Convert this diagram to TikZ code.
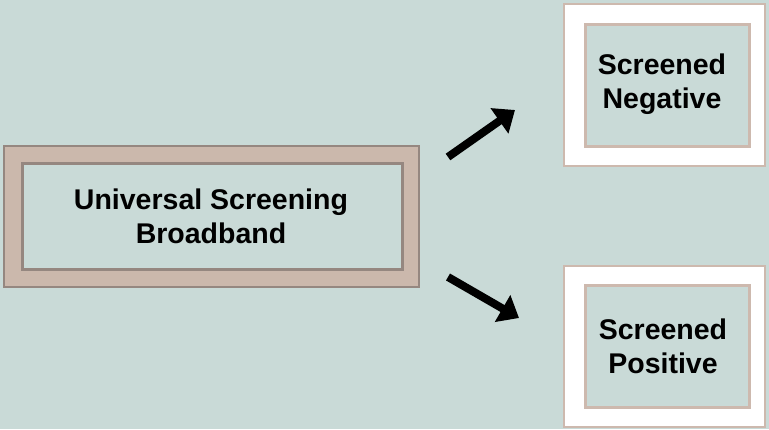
\documentclass[tikz,border=0pt]{standalone}
\usepackage{fontspec}
\setmainfont{Liberation Sans}
\usetikzlibrary{arrows.meta}
\definecolor{bgc}{HTML}{C9DAD7}
\definecolor{tan}{HTML}{CBB8AC}
\definecolor{darktan}{HTML}{958780}
\definecolor{lighttan}{HTML}{CDB9AE}
\tikzset{
  frame/.style={draw, inner sep=0pt, outer sep=0pt},
  label/.style={font=\bfseries\fontsize{28.5}{34}\selectfont, align=center},
  bigarrow/.style={line width=8pt, -{Triangle[width=30pt,length=19pt]}, black}
}
\begin{document}
\begin{tikzpicture}[x=1pt,y=-1pt]
  % background
  \fill[bgc] (0,0) rectangle (769,429);
  \useasboundingbox (0,0) rectangle (769,429);

  % main box
  \draw[fill=tan, draw=darktan, line width=2pt] (4,146) rectangle (419,287);
  \draw[fill=bgc, draw=darktan, line width=3pt] (22,163) rectangle (402,269);
  \node[label] (main) at (211,216) {Universal Screening\\Broadband};

  % negative outcome
  \draw[fill=white, draw=lighttan, line width=2pt] (564,4) rectangle (765,166);
  \draw[fill=bgc, draw=lighttan, line width=3pt] (585,24) rectangle (749,146);
  \node[label] (neg) at (662,84) {Screened\\Negative};

  % positive outcome
  \draw[fill=white, draw=lighttan, line width=2pt] (564,266) rectangle (765,427);
  \draw[fill=bgc, draw=lighttan, line width=3pt] (585,285) rectangle (749,407);
  \node[label] (pos) at (663,346) {Screened\\Positive};

  % arrow end points
  \coordinate (t1) at (448,157);
  \coordinate (h1) at (515,110);
  \coordinate (t2) at (448,277);
  \coordinate (h2) at (519,318);
  \draw[bigarrow] (t1) -- (h1);
  \draw[bigarrow] (t2) -- (h2);
\end{tikzpicture}
\end{document}
